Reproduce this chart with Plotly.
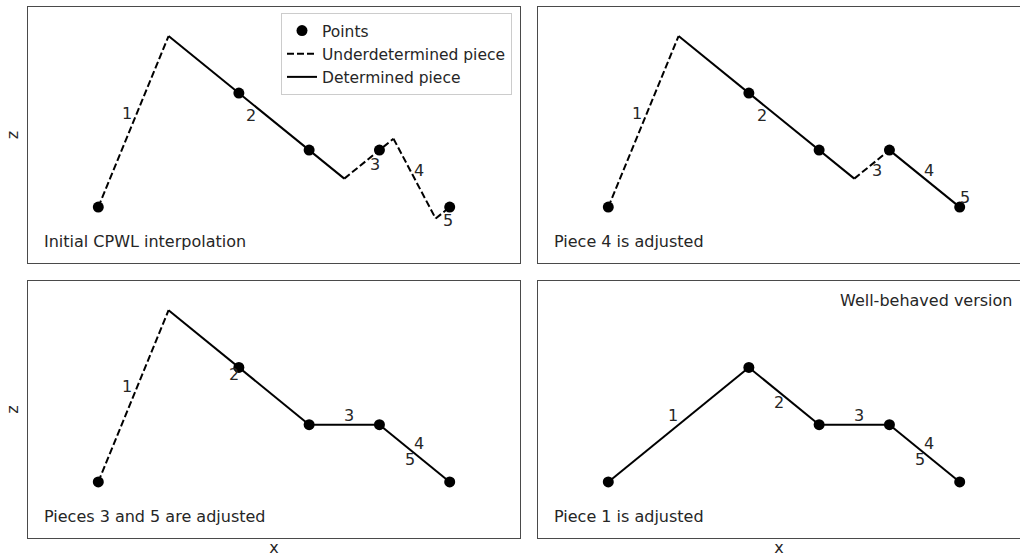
import plotly.graph_objects as go

# Sample points shared by every panel
pts_x = [0, 2, 3, 4, 5]
pts_z = [0, 2, 1, 1, 0]

# Vertices of the piecewise-linear interpolant in each panel
knots_x = [
    [0, 1, 3.5, 4.2, 4.8, 5],
    [0, 1, 3.5, 4, 5],
    [0, 1, 3, 4, 5],
    [0, 2, 3, 4, 5],
]
knots_z = [
    [0, 3, 0.5, 1.2, -0.2, 0],
    [0, 3, 0.5, 1, 0],
    [0, 3, 1, 1, 0],
    [0, 2, 1, 1, 0],
]
# True = determined piece (solid), False = underdetermined piece (dashed)
piece_determined = [
    [False, True, False, False, False],
    [False, True, False, True],
    [False, True, True, True],
    [True, True, True, True],
]

# Piece number labels ("1".."5") and their positions
piece_labels = ["1", "2", "3", "4", "5"]
label_x = [
    [0.415, 2.17, 3.93, 4.57, 4.97],
    [0.41, 2.18, 3.83, 4.56, 5.08],
    [0.415, 1.93, 3.57, 4.57, 4.43],
    [0.92, 2.43, 3.57, 4.56, 4.43],
]
label_z = [
    [1.64, 1.61, 0.75, 0.65, -0.23],
    [1.64, 1.61, 0.65, 0.65, 0.17],
    [1.66, 1.88, 1.16, 0.67, 0.39],
    [1.16, 1.39, 1.16, 0.67, 0.39],
]

panel_titles = [
    "Initial CPWL interpolation",
    "Piece 4 is adjusted",
    "Pieces 3 and 5 are adjusted",
    "Piece 1 is adjusted",
]

W, H = 1020, 557
FONT = "DejaVu Sans"
FS = 16
TXT = "#262626"
FRAME = "#4a4a4a"

# Pixel boxes of the four axes: (left, right, top, bottom)
boxes = [
    (28, 520, 7, 263),
    (538, 1020, 7, 263),
    (28, 520, 281, 538),
    (538, 1020, 281, 538),
]
x_unit = 492 / 7.0  # px per x unit

fig = go.Figure()
shown = {"dash": False, "solid": False}

for p in range(4):
    ax = "" if p == 0 else str(p + 1)
    xr, yr = "x" + ax, "y" + ax
    kx, kz = knots_x[p], knots_z[p]
    for i, det in enumerate(piece_determined[p]):
        key = "solid" if det else "dash"
        show = p == 0 and not shown[key]
        if show:
            shown[key] = True
        fig.add_trace(go.Scatter(
            x=[kx[i], kx[i + 1]], y=[kz[i], kz[i + 1]],
            mode="lines",
            line=dict(color="black", width=2, dash="solid" if det else "7px,3px"),
            name="Determined piece" if det else "Underdetermined piece",
            legendrank=3 if det else 2,
            legendgroup=key,
            showlegend=show,
            xaxis=xr, yaxis=yr,
        ))
    fig.add_trace(go.Scatter(
        x=pts_x, y=pts_z, mode="markers",
        marker=dict(color="black", size=11),
        name="Points", legendrank=1, legendgroup="pts",
        showlegend=(p == 0),
        xaxis=xr, yaxis=yr,
    ))
    for lab, lx, lz in zip(piece_labels, label_x[p], label_z[p]):
        fig.add_annotation(x=lx, y=lz, xref=xr, yref=yr, text=lab,
                           showarrow=False, font=dict(size=FS, color=TXT, family=FONT))
    fig.add_annotation(x=-0.8, y=-0.61, xref=xr, yref=yr, text=panel_titles[p],
                       xanchor="left", yanchor="middle", showarrow=False,
                       font=dict(size=FS, color=TXT, family=FONT))

fig.add_annotation(x=5.79, y=3.17, xref="x4", yref="y4", text="Well-behaved version",
                   xanchor="right", yanchor="middle", showarrow=False,
                   font=dict(size=FS, color=TXT, family=FONT))

layout = dict(
    width=W, height=H,
    margin=dict(l=0, r=0, t=0, b=0),
    paper_bgcolor="white", plot_bgcolor="white",
    font=dict(family=FONT, size=FS, color=TXT),
    legend=dict(
        x=512 / W, y=1 - 13 / H, xanchor="right", yanchor="top",
        bgcolor="rgba(255,255,255,0.85)", bordercolor="#cccccc", borderwidth=1,
        font=dict(size=15.5, color=TXT, family=FONT),
        traceorder="grouped", tracegroupgap=0,
    ),
)

for p, (l, r, t, b) in enumerate(boxes):
    ax = "" if p == 0 else str(p + 1)
    x_hi = -1 + (r - l) / x_unit
    xa = dict(
        domain=[l / W, r / W], range=[-1, x_hi],
        showticklabels=False, ticks="", showgrid=False, zeroline=False,
        showline=True, linecolor=FRAME, linewidth=1.3, mirror=True,
        anchor="y" + ax, automargin=False,
    )
    ya = dict(
        domain=[1 - b / H, 1 - t / H], range=[-0.98, 3.51],
        showticklabels=False, ticks="", showgrid=False, zeroline=False,
        showline=True, linecolor=FRAME, linewidth=1.3,
        mirror=(p % 2 == 0),
        anchor="x" + ax, automargin=False,
    )
    if p >= 2:
        xa["title"] = dict(text="x", standoff=7, font=dict(size=FS, color=TXT, family=FONT))
    if p % 2 == 0:
        ya["title"] = dict(text="z", standoff=4, font=dict(size=FS, color=TXT, family=FONT))
    layout["xaxis" + ax] = xa
    layout["yaxis" + ax] = ya

fig.update_layout(**layout)
fig.write_html("out.html")
